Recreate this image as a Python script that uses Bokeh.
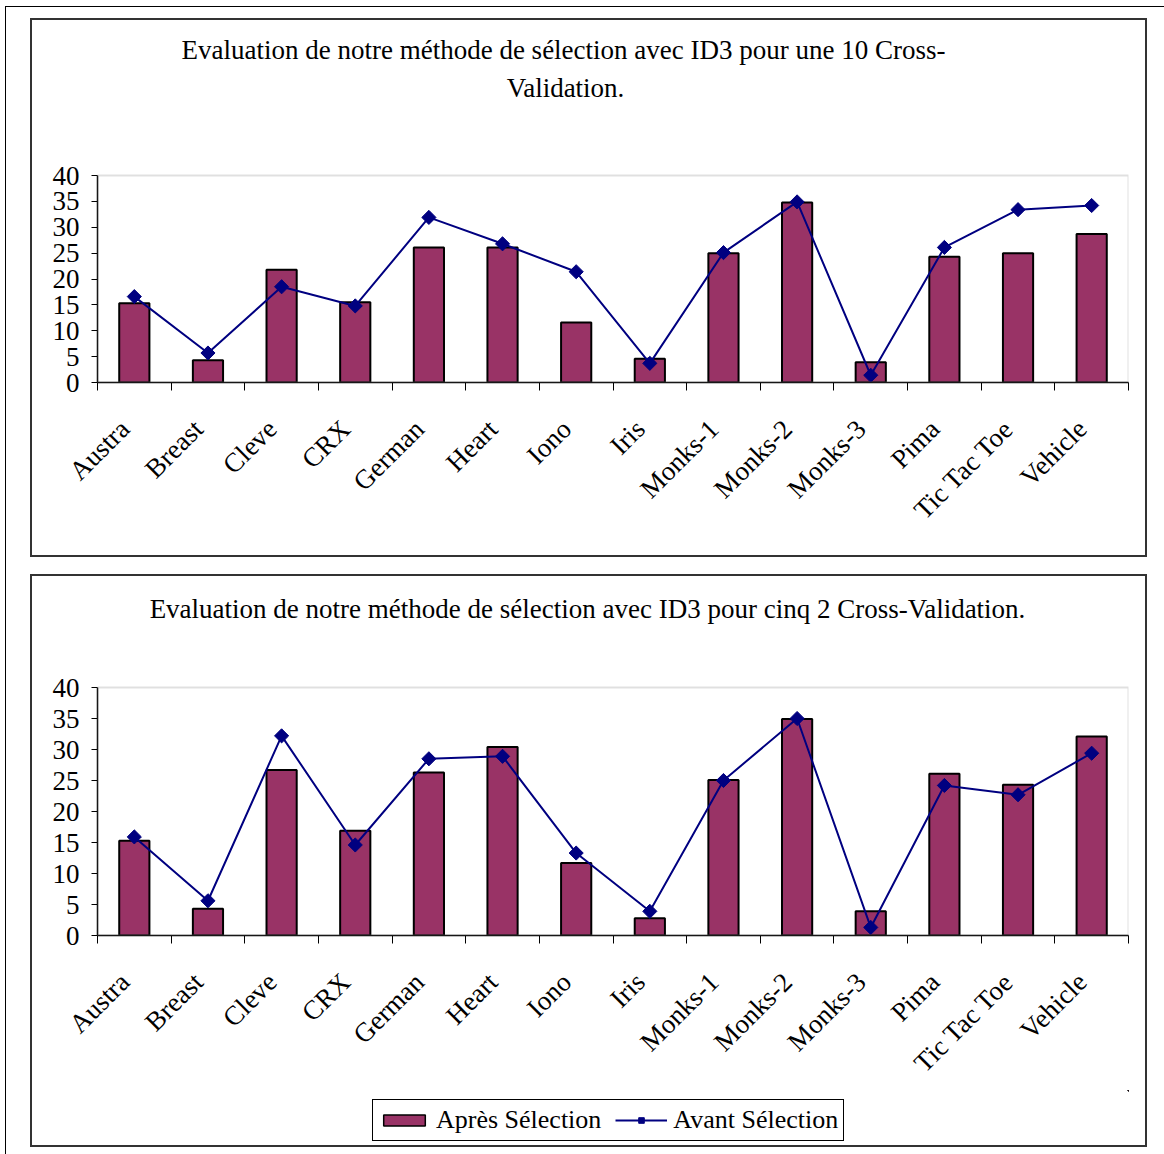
import math

from bokeh.embed import file_html
from bokeh.layouts import column
from bokeh.models import (BoxAnnotation, ColumnDataSource, FixedTicker, Label,
                          Legend, LegendItem, Range1d)
from bokeh.plotting import figure
from bokeh.resources import INLINE

# Datasets on the x axis
datasets = ["Austra", "Breast", "Cleve", "CRX", "German", "Heart", "Iono",
            "Iris", "Monks-1", "Monks-2", "Monks-3", "Pima", "Tic Tac Toe",
            "Vehicle"]

# Error rates, ID3 with 10-fold cross-validation
apres_10cv = [15.3, 4.3, 21.8, 15.5, 26.1, 26.1, 11.6, 4.6, 25.0, 34.8, 3.9,
              24.3, 25.0, 28.7]
avant_10cv = [16.6, 5.7, 18.5, 14.8, 31.9, 26.8, 21.4, 3.7, 25.1, 34.9, 1.4,
              26.1, 33.4, 34.2]

# Error rates, ID3 with five runs of 2-fold cross-validation
apres_5x2cv = [15.3, 4.3, 26.7, 16.9, 26.3, 30.4, 11.7, 2.8, 25.1, 34.9, 3.9,
               26.1, 24.3, 32.1]
avant_5x2cv = [15.9, 5.6, 32.2, 14.6, 28.5, 28.9, 13.3, 3.9, 25.0, 35.0, 1.3,
               24.2, 22.7, 29.4]

y_ticks = [0, 5, 10, 15, 20, 25, 30, 35, 40]
Y_MAX = 40

title_10cv = ["Evaluation de notre méthode de sélection avec ID3 pour une 10 Cross-",
              "Validation."]
title_5x2cv = ["Evaluation de notre méthode de sélection avec ID3 pour cinq 2 Cross-Validation."]
legend_labels = ["Après Sélection", "Avant Sélection"]

SERIF = "Liberation Serif"
BAR_COLOR = "#993366"
LINE_COLOR = "#000080"
BOX = "2px solid #333333"

WIDTH = 1117        # outer width of each chart box
FRAME_W = 1031      # width of the value area in px
LEFT = 65           # room for the y tick labels
LABEL_SHIFT = 0.13  # rotated category labels sit slightly left of centre


def make_chart(title_lines, title_pos, apres, avant, height, plot_h,
               bottom, styles):
    """Bar + line chart; the frame reaches up to the canvas top so the
    title lines can be placed as labels above the 0-40 value area."""
    n = len(datasets)
    centers = [i + 0.5 for i in range(n)]
    src = ColumnDataSource(dict(x=centers, apres=apres, avant=avant))

    frame_h = height - bottom
    y_top = Y_MAX * frame_h / plot_h

    p = figure(width=WIDTH, height=height, output_backend="svg",
               toolbar_location=None, title=None, x_range=Range1d(0, n),
               y_range=Range1d(0, y_top), min_border_left=LEFT,
               min_border_right=WIDTH - LEFT - FRAME_W, min_border_top=0,
               min_border_bottom=bottom, background_fill_color="white",
               border_fill_color="white", outline_line_color=None,
               styles=styles)
    p.xgrid.visible = False
    p.ygrid.visible = False

    # grey border of the value area (left and bottom are covered by axes)
    p.add_layout(BoxAnnotation(left=0, right=n, bottom=0, top=Y_MAX,
                               fill_alpha=0, line_color="#999999",
                               line_width=2))

    xa = p.xaxis[0]
    label_pos = [c - LABEL_SHIFT for c in centers]
    xa.ticker = FixedTicker(ticks=label_pos, minor_ticks=list(range(n + 1)))
    xa.major_label_overrides = {c: name for c, name in zip(label_pos, datasets)}
    xa.major_tick_in = 0
    xa.major_tick_out = 0
    xa.minor_tick_in = 0
    xa.minor_tick_out = 8
    xa.minor_tick_line_color = "black"
    xa.minor_tick_line_width = 1
    xa.axis_line_color = "black"
    xa.axis_line_width = 1.5
    xa.major_label_orientation = math.pi / 4
    xa.major_label_standoff = 34
    xa.major_label_text_font = SERIF
    xa.major_label_text_font_size = "27px"
    xa.major_label_text_color = "black"

    ya = p.yaxis[0]
    ya.ticker = FixedTicker(ticks=y_ticks)
    ya.bounds = (0, Y_MAX)
    ya.major_tick_in = 0
    ya.major_tick_out = 6
    ya.major_tick_line_color = "black"
    ya.minor_tick_line_color = None
    ya.axis_line_color = "black"
    ya.axis_line_width = 1.5
    ya.major_label_standoff = 12
    ya.major_label_text_font = SERIF
    ya.major_label_text_font_size = "27px"
    ya.major_label_text_color = "black"

    p.vbar(x="x", top="apres", bottom=0, width=0.41, source=src,
           fill_color=BAR_COLOR, line_color="black", line_width=2)
    p.line(x="x", y="avant", source=src, line_color=LINE_COLOR, line_width=2)
    p.scatter(x="x", y="avant", source=src, marker="square",
              angle=math.pi / 4, size=10, fill_color=LINE_COLOR,
              line_color=LINE_COLOR)

    for text, (tx, ty) in zip(title_lines, title_pos):
        p.add_layout(Label(x=tx, y=ty, x_units="screen", y_units="screen",
                           text=text, text_align="center",
                           text_baseline="middle", text_font=SERIF,
                           text_font_size="27px", text_color="black"))
    return p, src


# --- chart 1: 10 cross-validation ---------------------------------------
p1, _ = make_chart(title_10cv, [(466, 333), (468, 295)], apres_10cv,
                   avant_10cv, height=539, plot_h=207, bottom=177,
                   styles={"border": BOX})
p1.margin = (11, 17, 0, 24)

# --- chart 2: five 2 cross-validation -----------------------------------
p2, src2 = make_chart(
    title_5x2cv, [(490, 327)], apres_5x2cv, avant_5x2cv, height=516,
    plot_h=248, bottom=157,
    styles={"border-top": BOX, "border-left": BOX, "border-right": BOX})
p2.margin = (17, 17, 0, 24)

# legend strip closing the second box; its renderers share chart 2's data
# but the strip's ranges lie far away from it, so only the legend shows
leg = figure(width=WIDTH, height=57, output_backend="svg",
             toolbar_location=None, title=None, x_axis_type=None,
             y_axis_type=None, x_range=Range1d(-200, -199),
             y_range=Range1d(-200, -199),
             min_border=0, outline_line_color=None,
             background_fill_color="white", border_fill_color="white",
             styles={"border-bottom": BOX, "border-left": BOX,
                     "border-right": BOX})
leg.xgrid.visible = False
leg.ygrid.visible = False
leg_bar = leg.vbar(x="x", top="apres", bottom=0, width=0.41, source=src2,
                   fill_color=BAR_COLOR, line_color="black", line_width=1.5)
leg_line = leg.line(x="x", y="avant", source=src2, line_color=LINE_COLOR,
                    line_width=2)
leg_pts = leg.scatter(x="x", y="avant", source=src2, marker="square",
                      angle=math.pi / 4, size=10, fill_color=LINE_COLOR,
                      line_color=LINE_COLOR)
legend = Legend(items=[
    LegendItem(label=legend_labels[0], renderers=[leg_bar]),
    LegendItem(label=legend_labels[1], renderers=[leg_line, leg_pts]),
], orientation="horizontal", location=(275, 6),
    border_line_color="black", border_line_width=1, border_line_alpha=1,
    background_fill_color="white", background_fill_alpha=1,
    label_text_font=SERIF, label_text_font_size="26px",
    label_text_color="black",
    glyph_width=52, glyph_height=14, label_standoff=6, spacing=14,
    padding=5, margin=0)
leg.add_layout(legend)
leg.margin = (0, 17, 7, 24)

page = column(p1, p2, leg, spacing=0, margin=(6, 0, 0, 5),
              styles={"border-top": "1px solid black",
                      "border-left": "1px solid black"})

open("out.html", "w").write(file_html(page, INLINE))
